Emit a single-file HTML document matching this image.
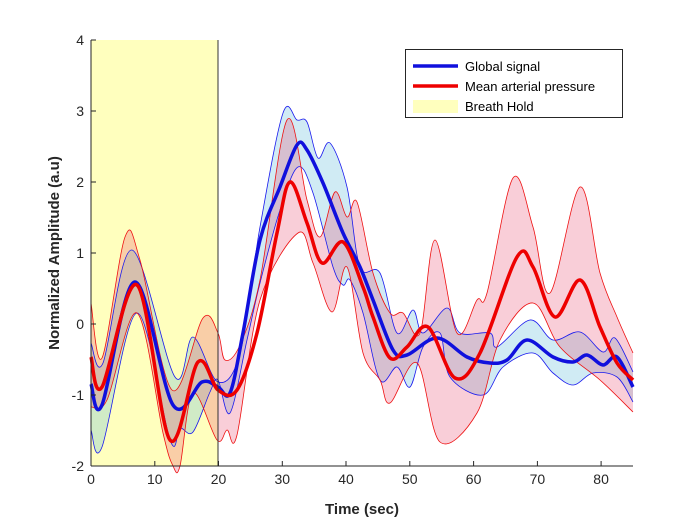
<!DOCTYPE html>
<html><head><meta charset="utf-8"><style>
body{margin:0;background:#fff}
svg{display:block;font-family:"Liberation Sans",sans-serif}
</style></head><body>
<svg id="s" width="700" height="525" viewBox="0 0 700 525">
<rect x="91" y="40" width="127" height="426" fill="#ffffbe"/>
<g id="bands"></g>
<g id="lines"></g>
<line x1="218" y1="40" x2="218" y2="466" stroke="#333" stroke-width="1"/>
<line x1="91" y1="40" x2="91" y2="466" stroke="#262626" stroke-width="1"/>
<line x1="91" y1="466" x2="633" y2="466" stroke="#262626" stroke-width="1"/>
<g stroke="#262626" stroke-width="1">
<line x1="91" y1="40" x2="96" y2="40"/><line x1="91" y1="111" x2="96" y2="111"/><line x1="91" y1="182" x2="96" y2="182"/><line x1="91" y1="253" x2="96" y2="253"/><line x1="91" y1="324" x2="96" y2="324"/><line x1="91" y1="395" x2="96" y2="395"/>
<line x1="154.8" y1="466" x2="154.8" y2="461"/><line x1="218.5" y1="466" x2="218.5" y2="461"/><line x1="282.3" y1="466" x2="282.3" y2="461"/><line x1="346" y1="466" x2="346" y2="461"/><line x1="409.8" y1="466" x2="409.8" y2="461"/><line x1="473.6" y1="466" x2="473.6" y2="461"/><line x1="537.4" y1="466" x2="537.4" y2="461"/><line x1="601.1" y1="466" x2="601.1" y2="461"/>
</g>
<g font-size="14" fill="#262626" text-anchor="end">
<text x="84" y="45">4</text><text x="84" y="116">3</text><text x="84" y="187">2</text><text x="84" y="258">1</text><text x="84" y="329">0</text><text x="84" y="400">-1</text><text x="84" y="471">-2</text>
</g>
<g font-size="14" fill="#262626" text-anchor="middle">
<text x="91" y="484">0</text><text x="154.8" y="484">10</text><text x="218.5" y="484">20</text><text x="282.3" y="484">30</text><text x="346" y="484">40</text><text x="409.8" y="484">50</text><text x="473.6" y="484">60</text><text x="537.4" y="484">70</text><text x="601.1" y="484">80</text>
</g>
<text x="362" y="514" font-size="15" font-weight="bold" text-anchor="middle" fill="#262626">Time (sec)</text>
<text transform="translate(59,253) rotate(-90)" font-size="15" font-weight="bold" text-anchor="middle" fill="#262626">Normalized Amplitude (a.u)</text>
<rect x="405.5" y="49.5" width="217" height="68" fill="#fff" stroke="#262626" stroke-width="1"/>
<line x1="413" y1="66" x2="458" y2="66" stroke="#1010dd" stroke-width="3.5"/>
<line x1="413" y1="86" x2="458" y2="86" stroke="#ee0000" stroke-width="3.5"/>
<rect x="413" y="100" width="45" height="13" fill="#ffffbe"/>
<g font-size="13" fill="#000"><text x="465" y="71">Global signal</text><text x="465" y="91">Mean arterial pressure</text><text x="465" y="111">Breath Hold</text></g>
</svg>
<script>
function P(a){var d="M"+a[0][0]+","+a[0][1];for(var i=0;i<a.length-1;i++){var p0=a[i-1]||a[i],p1=a[i],p2=a[i+1],p3=a[i+2]||p2;
d+=" C"+(p1[0]+(p2[0]-p0[0])/6).toFixed(1)+","+(p1[1]+(p2[1]-p0[1])/6).toFixed(1)+" "+(p2[0]-(p3[0]-p1[0])/6).toFixed(1)+","+(p2[1]-(p3[1]-p1[1])/6).toFixed(1)+" "+p2[0]+","+p2[1];}return d;}
function R(a){var d=P(a.slice().reverse());return "L"+d.slice(1);}
var bm=[[91,384],[102,405],[135,282],[173,405],[202,382],[218,387],[230,393],[243,333],[260,240],[280,187],[297,145],[307,150],[323,183],[343,233],[360,267],[373,300],[393,350],[407,355],[437,338],[467,357],[490,363],[507,360],[527,340],[553,357],[573,362],[587,355],[603,365],[617,357],[633,387]];
var bu=[[91,343],[103,363],[132,250],[175,377],[193,337],[218,382],[240,353],[260,227],[283,113],[297,120],[307,122],[318,158],[330,143],[347,187],[360,267],[380,273],[397,333],[413,310],[423,333],[447,308],[460,333],[490,333],[497,347],[530,320],[553,340],[580,332],[603,352],[615,338],[633,372]];
var bl=[[91,430],[102,447],[137,313],[170,440],[180,428],[193,432],[210,392],[218,380],[230,413],[247,340],[260,283],[280,210],[298,167],[313,193],[333,267],[343,285],[350,280],[363,313],[380,380],[397,367],[410,387],[423,347],[440,333],[450,377],[483,395],[503,367],[533,353],[553,373],[573,385],[593,373],[617,377],[633,402]];
var rm=[[91,357],[102,387],[137,285],[170,440],[198,362],[218,390],[237,390],[257,333],[277,233],[290,182],[307,223],[322,263],[343,242],[363,287],[373,317],[390,358],[407,347],[428,327],[455,378],[480,353],[517,257],[533,267],[555,317],[580,280],[600,327],[617,363],[633,380]];
var ru=[[91,303],[102,358],[125,237],[140,260],[172,390],[203,318],[218,333],[225,360],[240,345],[260,280],[287,120],[307,200],[320,237],[335,192],[347,217],[357,202],[373,273],[390,313],[403,313],[420,333],[435,240],[457,333],[477,300],[487,293],[513,178],[533,227],[550,293],[580,187],[600,273],[617,317],[633,353]];
var rl=[[91,407],[107,400],[137,313],[163,433],[173,466],[180,466],[193,393],[217,440],[227,430],[237,435],[260,300],[298,233],[313,263],[332,312],[347,267],[363,353],[380,380],[390,403],[417,363],[440,442],[477,413],[500,340],[533,303],[560,347],[600,380],[633,412]];
var ns="http://www.w3.org/2000/svg";
function add(g,d,f,o,s,w){var e=document.createElementNS(ns,"path");e.setAttribute("d",d);e.setAttribute("fill",f);if(o)e.setAttribute("fill-opacity",o);if(s){e.setAttribute("stroke",s);e.setAttribute("stroke-width",w);e.setAttribute("stroke-linejoin","round");}document.getElementById(g).appendChild(e);}
add("bands",P(bu)+" "+R(bl)+"Z","rgb(100,190,220)",0.3);
add("bands",P(ru)+" "+R(rl)+"Z","rgb(230,60,100)",0.25);
add("bands",P(bu),"none",0,"#1a1aee",0.8);add("bands",P(bl),"none",0,"#1a1aee",0.8);
add("bands",P(ru),"none",0,"#ee1111",0.8);add("bands",P(rl),"none",0,"#ee1111",0.8);
add("lines",P(bm),"none",0,"#1010dd",3.5);
add("lines",P(rm),"none",0,"#ee0000",3.5);
</script>
</body></html>
